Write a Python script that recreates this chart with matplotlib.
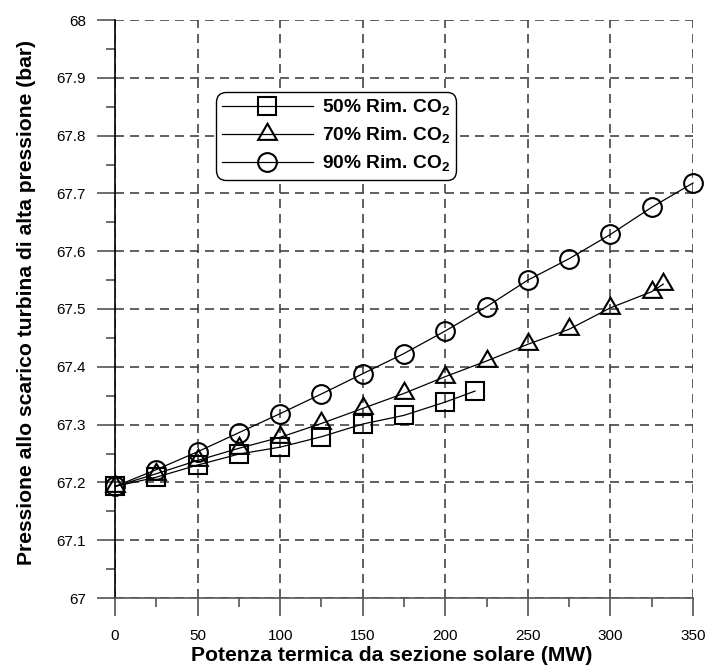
# Pressione allo scarico turbina AP vs potenza termica solare
import numpy as np
import matplotlib
matplotlib.use('Agg')
import matplotlib.pyplot as plt
from matplotlib.ticker import MultipleLocator, FormatStrFormatter

# dati
x50 = [0, 25, 50, 75, 100, 125, 150, 175, 200, 218]
y50 = [67.193, 67.209, 67.230, 67.249, 67.261, 67.279, 67.301, 67.316, 67.339, 67.358]

x70 = [0, 25, 50, 75, 100, 125, 150, 175, 200, 225, 250, 275, 300, 325, 332]
y70 = [67.193, 67.215, 67.238, 67.259, 67.278, 67.302, 67.328, 67.354, 67.383,
       67.410, 67.439, 67.465, 67.502, 67.530, 67.543]

x90 = [0, 25, 50, 75, 100, 125, 150, 175, 200, 225, 250, 275, 300, 325, 350]
y90 = [67.193, 67.222, 67.253, 67.286, 67.319, 67.353, 67.388, 67.423, 67.462,
       67.504, 67.550, 67.587, 67.629, 67.676, 67.718]

etichette = [r'50% Rim. CO$_{\mathbf{2}}$', r'70% Rim. CO$_{\mathbf{2}}$', r'90% Rim. CO$_{\mathbf{2}}$']

plt.rcParams['font.family'] = ['Liberation Sans', 'DejaVu Sans']
plt.rcParams['mathtext.fontset'] = 'custom'
plt.rcParams['mathtext.rm'] = 'Liberation Sans'
plt.rcParams['mathtext.bf'] = 'Liberation Sans:bold'
plt.rcParams['lines.scale_dashes'] = False

fig = plt.figure(figsize=(7.09, 6.69), dpi=100)
ax = fig.add_axes([115 / 709, 71 / 669, 578 / 709, 578 / 669])

stile = dict(color='black', lw=0.9, mfc='none', mec='black', mew=1.5, clip_on=False)
ax.plot(x50, y50, marker='s', ms=13.5, label=etichette[0], **stile)
ax.plot(x70, y70, marker=(3, 0, 0), ms=15.5, label=etichette[1], **stile)
ax.plot(x90, y90, marker='o', ms=13.5, label=etichette[2], **stile)

ax.set_xlim(0, 350)
ax.set_ylim(67, 68)
ax.xaxis.set_major_locator(MultipleLocator(50))
ax.xaxis.set_minor_locator(MultipleLocator(25))
ax.yaxis.set_major_locator(MultipleLocator(0.1))
ax.yaxis.set_minor_locator(MultipleLocator(0.05))
ax.yaxis.set_major_formatter(FormatStrFormatter('%g'))

ax.grid(True, which='major', color='#444444', lw=1.2, linestyle=(0, (6.5, 4.3)))
ax.set_axisbelow(True)

ax.spines['top'].set_visible(False)
ax.spines['right'].set_visible(False)
ax.spines['left'].set_color('black')
ax.spines['left'].set_linewidth(1.2)
ax.spines['bottom'].set_color('#555555')
ax.spines['bottom'].set_linewidth(1.2)

ax.tick_params(which='major', direction='out', length=13, width=1.1, color='#444444',
               labelsize=11, top=False, right=False)
ax.tick_params(axis='x', which='major', pad=9.5)
ax.tick_params(axis='y', which='major', pad=8)
ax.tick_params(which='minor', direction='out', length=6.5, width=1.1, color='#444444',
               top=False, right=False)

ax.set_xlabel('Potenza termica da sezione solare (MW)', fontsize=15.2, fontweight='bold', labelpad=0)
ax.xaxis.set_label_coords(0.479, -0.083)
ax.set_ylabel('Pressione allo scarico turbina di alta pressione (bar)', fontsize=15.2,
              fontweight='bold')
ax.yaxis.set_label_coords(-0.137, 0.512)

leg = ax.legend(loc='upper left', bbox_to_anchor=(0.1747, 0.875), borderaxespad=0,
                fancybox=True, framealpha=1, edgecolor='black', handlelength=4.75,
                handletextpad=0.47, labelspacing=0.39, borderpad=0.31,
                prop={'weight': 'bold', 'size': 13.8})
leg.get_frame().set_linewidth(1.0)
leg.get_frame().set_boxstyle('round', pad=0, rounding_size=0.5)

plt.savefig('out.png', dpi=100)
